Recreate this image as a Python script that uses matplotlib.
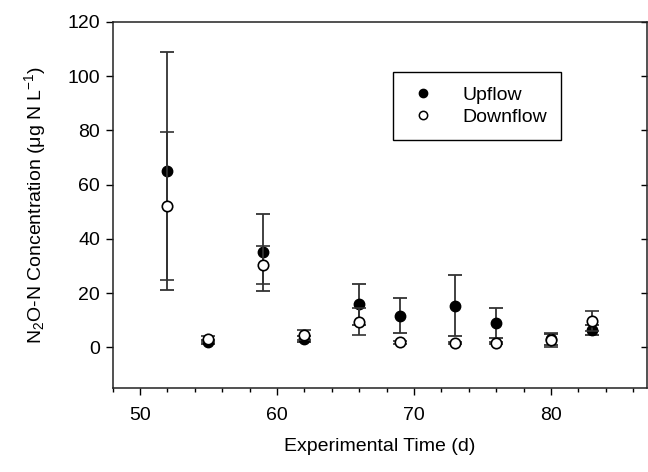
import numpy as np
import matplotlib
matplotlib.use('Agg')
import matplotlib.pyplot as plt
from matplotlib.ticker import MultipleLocator
from matplotlib.lines import Line2D

plt.rcParams['font.family'] = ['Liberation Sans', 'DejaVu Sans']
plt.rcParams['mathtext.default'] = 'regular'

days = [52, 55, 59, 62, 66, 69, 73, 76, 80, 83]
upflow = [65.0, 2.0, 35.0, 3.0, 15.8, 11.7, 15.4, 9.0, 3.0, 6.5]
upflow_err = [43.8, 0.6, 14.3, 1.0, 7.5, 6.5, 11.4, 5.5, 2.0, 1.8]
downflow = [52.0, 3.0, 30.4, 4.5, 9.4, 1.9, 1.6, 1.6, 2.8, 9.6]
downflow_err = [27.3, 1.0, 7.0, 1.8, 5.0, 0.5, 0.5, 0.5, 2.5, 3.7]

fig = plt.figure(figsize=(6.48, 4.72), dpi=100)
ax = fig.add_axes([112.5 / 648, 1 - 388 / 472, (647 - 112.5) / 648, (388 - 22) / 472])

ax.errorbar(days, upflow, yerr=upflow_err, fmt='o', color='black', ecolor='#333333',
            elinewidth=1.3, capsize=5, capthick=1.3, markersize=7.5, zorder=3)
ax.errorbar(days, downflow, yerr=downflow_err, fmt='o', mfc='white', mec='black', mew=1.2,
            ecolor='#333333', elinewidth=1.3, capsize=5, capthick=1.3, markersize=7.5,
            zorder=4)

ax.set_xlim(48, 87)
ax.set_ylim(-15, 120)
ax.xaxis.set_major_locator(MultipleLocator(10))
ax.xaxis.set_minor_locator(MultipleLocator(2))
ax.set_yticks(np.arange(0, 121, 20))

ax.tick_params(axis='both', which='major', labelsize=14, length=5, width=1, direction='out')
ax.tick_params(axis='x', which='minor', length=3, width=1, direction='out')
ax.tick_params(axis='y', which='major', right=True, labelright=False, pad=4)
ax.tick_params(axis='x', which='major', pad=9)
for t in ax.yaxis.get_major_ticks():
    t.tick2line.set_marker(matplotlib.lines.TICKLEFT)
    t.tick2line.set_markersize(4)

for s in ax.spines.values():
    s.set_linewidth(1.1)
    s.set_color('#222222')

ax.set_xlabel('Experimental Time (d)', fontsize=14, labelpad=10)
ax.set_ylabel('N$_2$O-N Concentration (μg N L$^{-1}$)', fontsize=14, labelpad=14)

handles = [
    Line2D([], [], ls='none', marker='o', color='black', markersize=6),
    Line2D([], [], ls='none', marker='o', mfc='white', mec='black', mew=1.1, markersize=6),
]
leg = ax.legend(handles, ['Upflow', 'Downflow'], loc='upper left',
                bbox_to_anchor=(393 / 648, 1 - 72 / 472),
                bbox_transform=fig.transFigure, fontsize=14, fancybox=False,
                framealpha=1, edgecolor='black', handletextpad=1.2,
                borderpad=0.75, handlelength=1.6, borderaxespad=0, labelspacing=0.2)
leg.get_frame().set_linewidth(1.0)

fig.savefig('out.png', dpi=100)
